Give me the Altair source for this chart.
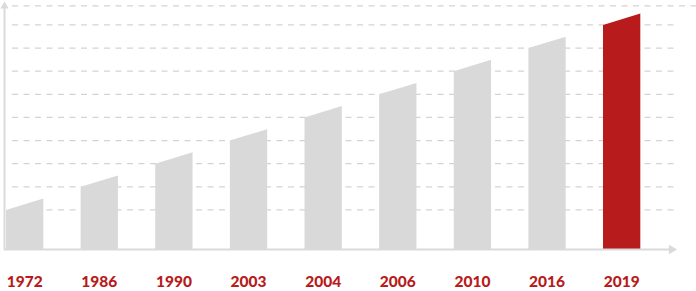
import altair as alt
import pandas as pd

years = ["1972", "1986", "1990", "2003", "2004", "2006", "2010", "2016", "2019"]
top_left = [1.69, 2.69, 3.69, 4.69, 5.69, 6.69, 7.69, 8.69, 9.69]
top_right = [2.18, 3.18, 4.18, 5.18, 6.18, 7.18, 8.18, 9.18, 10.18]
grid_levels = [1.69, 2.69, 3.69, 4.69, 5.69, 6.69, 7.69, 8.69, 9.69]
top_grid = [10.51]
highlight = "2019"

GRAY = "#d9d9d9"
RED = "#b71b1b"
LINE = "#dadada"

rows = []
for i, (yr, l, r) in enumerate(zip(years, top_left, top_right)):
    kind = "hi" if yr == highlight else "base"
    rows.append({"year": yr, "x": i, "y": l, "kind": kind})
    rows.append({"year": yr, "x": i + 0.5, "y": r, "kind": kind})
bars_df = pd.DataFrame(rows)
labels_df = pd.DataFrame({"year": years, "x": [i + 0.25 for i in range(len(years))]})
grid_df = pd.DataFrame({"g": grid_levels})
topgrid_df = pd.DataFrame({"g": top_grid})
one = pd.DataFrame({"a": [0]})

xs = alt.Scale(domain=[-0.0804, 9.2462], nice=False, zero=False)
ys = alt.Scale(domain=[-1.816, 10.768], nice=False, zero=False)

grid = alt.Chart(grid_df).mark_rule(color="#d3d3d3", strokeWidth=1.3, strokeDash=[6, 5.5]).encode(
    y=alt.Y("g:Q", scale=ys, axis=None),
    x=alt.value(12), x2=alt.value(674),
)
topgrid = alt.Chart(topgrid_df).mark_rule(color="#d3d3d3", strokeWidth=1.3, strokeDash=[6, 5.5]).encode(
    y=alt.Y("g:Q", scale=ys, axis=None),
    x=alt.value(12), x2=alt.value(696),
)

bars = alt.Chart(bars_df).mark_area(interpolate="linear").encode(
    x=alt.X("x:Q", scale=xs, axis=None),
    y=alt.Y("y:Q", scale=ys, axis=None, stack=None),
    y2=alt.datum(0),
    detail="year:N",
    color=alt.Color("kind:N", scale=alt.Scale(domain=["base", "hi"], range=[GRAY, RED]), legend=None),
)

yaxis = alt.Chart(one).mark_rule(color=LINE, strokeWidth=2).encode(
    x=alt.value(4.5), y=alt.value(7), y2=alt.value(250)
)
xaxis = alt.Chart(one).mark_rule(color=LINE, strokeWidth=2).encode(
    x=alt.value(4), x2=alt.value(669), y=alt.value(249.5)
)
yarrow = alt.Chart(one).mark_point(shape="triangle-up", filled=True, color=LINE, opacity=1, size=70).encode(
    x=alt.value(4.5), y=alt.value(5)
)
xarrow = alt.Chart(one).mark_point(shape="triangle-right", filled=True, color=LINE, opacity=1, size=90).encode(
    x=alt.value(673), y=alt.value(249.5)
)

labels = alt.Chart(labels_df).mark_text(
    font="Lato", fontWeight=900, fontSize=15.5, color=RED, baseline="middle", align="center"
).encode(
    x=alt.X("x:Q", scale=xs, axis=None),
    y=alt.value(281.5),
    text="year:N",
)

chart = alt.layer(grid, topgrid, bars, yaxis, xaxis, yarrow, xarrow, labels).properties(
    width=696, height=291, padding=0, autosize="none"
).configure_view(stroke=None)

chart.save("out.html", embed_options={"renderer": "svg", "actions": False})
